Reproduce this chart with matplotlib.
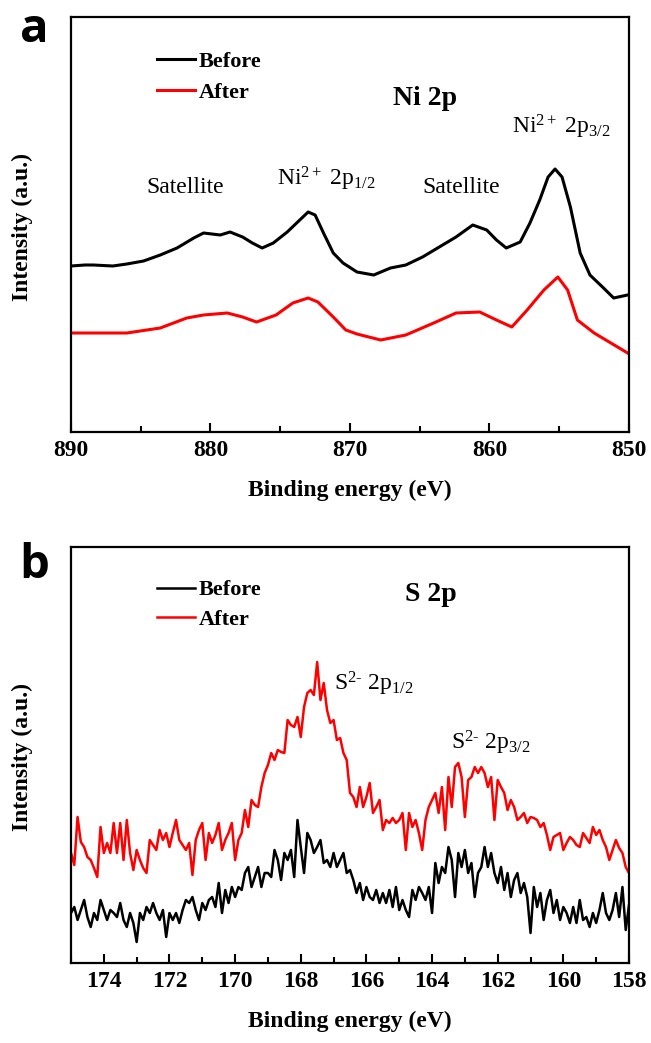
import numpy as np
import matplotlib
matplotlib.use("Agg")
import matplotlib.pyplot as plt

plt.rcParams['font.family'] = ['Liberation Serif', 'DejaVu Serif']
plt.rcParams['mathtext.fontset'] = 'custom'
plt.rcParams['mathtext.rm'] = 'Liberation Serif'
plt.rcParams['mathtext.it'] = 'Liberation Serif:italic'
plt.rcParams['mathtext.bf'] = 'Liberation Serif:bold'

# ---------------- Panel a: Ni 2p ----------------
ni_before_energy = [890.0, 889.0, 888.4, 887.0, 886.0, 884.8, 883.6, 882.4, 881.2, 880.5,
                    879.3, 878.6, 877.7, 877.0, 876.3, 875.5, 874.5, 873.6, 873.0, 872.5,
                    871.9, 871.2, 870.5, 869.5, 868.3, 867.1, 866.0, 864.8, 863.6, 862.4,
                    861.2, 860.2, 859.5, 858.8, 857.8, 857.1, 856.4, 855.8, 855.3, 854.8,
                    854.2, 853.5, 852.8, 851.9, 851.1, 850.1]
ni_before_int = [166, 167, 167, 166, 168, 171, 177, 184, 194, 199,
                 197, 200, 195, 189, 184, 189, 200, 212, 220, 217,
                 199, 179, 169, 160, 157, 164, 167, 175, 185, 195,
                 207, 202, 192, 184, 190, 209, 232, 255, 263, 255,
                 225, 179, 157, 145, 134, 137]

ni_after_energy = [890.0, 888.4, 886.0, 883.6, 881.7, 880.5, 878.8, 877.7, 876.7, 875.3,
                   874.1, 873.0, 872.3, 871.2, 870.3, 869.5, 867.8, 866.0, 864.0, 862.4,
                   860.7, 859.5, 858.4, 857.3, 856.1, 855.1, 854.4, 853.7, 852.5, 851.3,
                   850.1]
ni_after_int = [99, 99, 99, 104, 114, 117, 119, 115, 110, 117,
                129, 134, 130, 115, 102, 98, 92, 97, 109, 119,
                120, 112, 105, 122, 142, 155, 142, 112, 99, 89,
                79]

ni_xticks = [890, 880, 870, 860, 850]

# ---------------- Panel b: S 2p ----------------
s_energy = np.round(np.arange(175.0, 157.95, -0.1), 1)
s_before_int = [50, 56, 43, 53, 63, 46, 36, 50, 43, 63,
                53, 43, 53, 50, 46, 60, 43, 36, 50, 40,
                21, 50, 43, 56, 50, 60, 50, 43, 53, 26,
                50, 43, 50, 40, 53, 63, 60, 66, 53, 43,
                60, 53, 63, 66, 56, 80, 50, 73, 60, 76,
                66, 76, 73, 90, 96, 76, 86, 96, 76, 90,
                90, 86, 113, 103, 83, 110, 103, 113, 86, 143,
                116, 90, 130, 123, 110, 116, 123, 100, 103, 96,
                110, 96,
                103, 110, 90, 93, 83, 70, 80, 63, 76, 66,
                63, 73, 60, 70, 60, 73, 56, 76, 53, 63,
                53, 46, 73, 63, 76, 70, 63, 76, 50, 100,
                80, 96, 90, 116, 103, 66, 110, 96, 113, 90,
                100, 66, 90, 96, 116, 96, 110, 90, 80, 96,
                73, 90, 66, 83, 90, 70, 80, 66, 30, 76,
                56, 70, 43, 63, 73, 50, 63, 43, 56, 50,
                40, 56, 40, 63, 43, 46, 36, 50, 40, 53,
                70, 50, 43, 53, 70, 46, 76, 33,
                58]
s_after_int = [110, 98, 146, 121, 116, 106, 103, 95, 86, 136,
               110, 120, 110, 140, 110, 140, 103, 143, 110, 93,
               113, 103, 95, 90, 123, 118, 113, 133, 123, 130,
               116, 130, 143, 123, 118, 113, 120, 88, 123, 133,
               140, 103, 130, 120, 128, 140, 113, 123, 130, 140,
               103, 123, 130, 153, 136, 163, 158, 156, 176, 190,
               198, 210, 203, 213, 211, 210, 243, 238, 236, 246,
               226, 256, 270, 273, 268, 301, 263, 280, 253, 240,
               243, 223, 225, 210, 203, 170, 166, 156, 176, 156,
               166, 180, 150, 156, 163, 133, 143, 140, 145, 140,
               143, 150, 113, 150, 136, 143, 130, 113, 143, 156,
               163, 170, 150, 176, 133, 186, 156, 196, 200, 186,
               146, 183, 186, 196, 190, 196, 190, 176, 186, 143,
               183, 176, 170, 153, 163, 156, 143, 146, 150, 140,
               146, 145, 143, 136, 140, 128, 113, 126, 128, 130,
               113, 120, 126, 123, 118, 116, 130, 125, 120, 136,
               128, 133, 123, 116, 103, 113, 123, 115, 110, 96,
               90]

s_xticks = [174, 172, 170, 168, 166, 164, 162, 160, 158]

series_labels = ["Before", "After"]
colors = ["#000000", "#ff0000"]

W, H = 651, 1043
fig = plt.figure(figsize=(W / 100, H / 100), dpi=100)


def fx(px):
    return px / W


def fy(py):
    return 1 - py / H


def style_axes(ax):
    for sp in ax.spines.values():
        sp.set_linewidth(1.6)
    ax.tick_params(axis='x', which='major', direction='in', length=6.5, width=1.5,
                   top=False, labelsize=17, pad=6)
    ax.tick_params(axis='x', which='minor', direction='in', length=4, width=1.5, top=False)
    ax.tick_params(axis='y', which='both', left=False, right=False, labelleft=False)
    for lab in ax.get_xticklabels():
        lab.set_fontweight('bold')


# Panel a
axa = fig.add_axes([fx(71), fy(432), (629 - 71) / W, (432 - 17) / H])
la1, = axa.plot(ni_before_energy, ni_before_int, color=colors[0], lw=2.2)
la2, = axa.plot(ni_after_energy, ni_after_int, color=colors[1], lw=2.2)
axa.set_xlim(890, 850)
axa.set_ylim(0, 415)
axa.set_xticks(ni_xticks)
axa.set_xticks([885, 875, 865, 855], minor=True)
style_axes(axa)
axa.set_xlabel("Binding energy (eV)", fontsize=17, fontweight='bold', labelpad=13)
axa.legend([la1, la2], series_labels, loc='upper left', bbox_to_anchor=(0.155, 0.918),
           frameon=False, prop={'size': 16, 'weight': 'bold'}, handlelength=1.7,
           handletextpad=0.15, labelspacing=0.5, borderpad=0, borderaxespad=0)
axa.text(0.635, 0.803, "Ni 2p", transform=axa.transAxes, fontsize=20, fontweight='bold',
         ha='center', va='center')
axa.text(0.204, 0.588, "Satellite", transform=axa.transAxes, fontsize=17, ha='center', va='center')
axa.text(0.700, 0.588, "Satellite", transform=axa.transAxes, fontsize=17, ha='center', va='center')
axa.text(0.457, 0.61, r"Ni$^{\mathrm{2+}}$ 2p$_{\mathrm{1/2}}$", transform=axa.transAxes,
         fontsize=17, ha='center', va='center')
axa.text(0.878, 0.735, r"Ni$^{\mathrm{2+}}$ 2p$_{\mathrm{3/2}}$", transform=axa.transAxes,
         fontsize=17, ha='center', va='center')

# Panel b
axb = fig.add_axes([fx(71), fy(963), (629 - 71) / W, (963 - 547) / H])
lb1, = axb.plot(s_energy, s_before_int, color=colors[0], lw=1.8)
lb2, = axb.plot(s_energy, s_after_int, color=colors[1], lw=1.8)
axb.set_xlim(175, 158)
axb.set_ylim(0, 416)
axb.set_xticks(s_xticks)
axb.set_xticks(np.arange(175, 158, -2), minor=True)
style_axes(axb)
axb.set_xlabel("Binding energy (eV)", fontsize=17, fontweight='bold', labelpad=13)
axb.legend([lb1, lb2], series_labels, loc='upper left', bbox_to_anchor=(0.155, 0.921),
           frameon=False, prop={'size': 16, 'weight': 'bold'}, handlelength=1.7,
           handletextpad=0.15, labelspacing=0.4, borderpad=0, borderaxespad=0)
axb.text(0.645, 0.885, "S 2p", transform=axb.transAxes, fontsize=20, fontweight='bold',
         ha='center', va='center')
axb.text(0.542, 0.672, "S$^{\\mathrm{2\u2010}}$ 2p$_{\\mathrm{1/2}}$", transform=axb.transAxes,
         fontsize=17, ha='center', va='center')
axb.text(0.752, 0.528, "S$^{\\mathrm{2\u2010}}$ 2p$_{\\mathrm{3/2}}$", transform=axb.transAxes,
         fontsize=17, ha='center', va='center')

# y labels
fig.text(fx(22), fy(227), "Intensity (a.u.)", rotation=90, fontsize=17, fontweight='bold',
         ha='center', va='center')
fig.text(fx(22), fy(757), "Intensity (a.u.)", rotation=90, fontsize=17, fontweight='bold',
         ha='center', va='center')

# panel letters
fig.text(fx(34), fy(30), "a", fontsize=34, fontweight='bold', family=['Open Sans', 'DejaVu Sans'],
         ha='center', va='center')
fig.text(fx(34), fy(565), "b", fontsize=34, fontweight='bold', family=['Open Sans', 'DejaVu Sans'],
         ha='center', va='center')

fig.savefig("out.png", dpi=100)
